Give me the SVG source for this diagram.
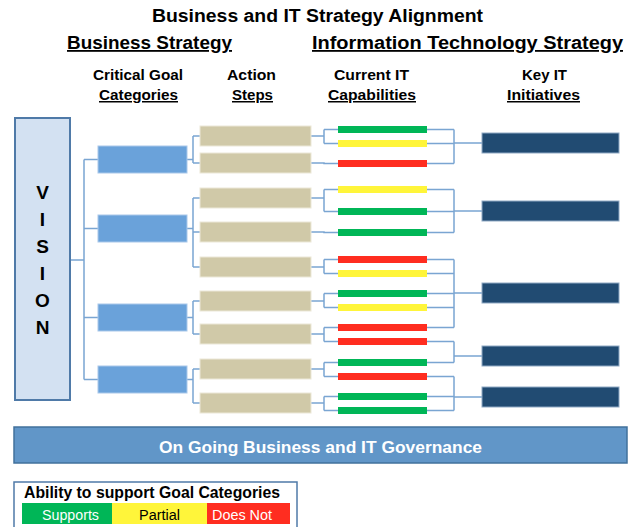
<svg xmlns="http://www.w3.org/2000/svg" width="637" height="527" viewBox="0 0 637 527">
<style>
text{font-family:"Liberation Sans",Arial,sans-serif;font-weight:bold;fill:#000}
.ttl{font-size:18px}
.hdr{font-size:18px;text-decoration:underline}
.sub{font-size:15px}
.subu{font-size:15px;text-decoration:underline}
.vis{font-size:19px}
.goal{fill:#6aa2da;stroke:#a9c8ea;stroke-width:1}
.act{fill:#d0c9a8;stroke:#ece8d8;stroke-width:1}
.key{fill:#214b72;stroke:#8fa9c4;stroke-width:1}
.g{fill:#00b657}
.y{fill:#fff53a}
.r{fill:#ff2d20}
.con{fill:none;stroke:#7aa5d2;stroke-width:1.5}
</style>
<text class="ttl" x="317.5" y="22" text-anchor="middle" textLength="331" lengthAdjust="spacingAndGlyphs">Business and IT Strategy Alignment</text>
<text class="hdr" x="67" y="49" textLength="165" lengthAdjust="spacingAndGlyphs">Business Strategy</text>
<text class="hdr" x="312" y="49" textLength="311" lengthAdjust="spacingAndGlyphs">Information Technology Strategy</text>
<text class="sub" x="138" y="80" text-anchor="middle" textLength="90" lengthAdjust="spacingAndGlyphs">Critical Goal</text>
<text class="subu" x="138.5" y="100" text-anchor="middle" textLength="79" lengthAdjust="spacingAndGlyphs">Categories</text>
<text class="sub" x="251.5" y="80" text-anchor="middle" textLength="49" lengthAdjust="spacingAndGlyphs">Action</text>
<text class="subu" x="252.5" y="100" text-anchor="middle" textLength="41" lengthAdjust="spacingAndGlyphs">Steps</text>
<text class="sub" x="371.5" y="80" text-anchor="middle" textLength="75" lengthAdjust="spacingAndGlyphs">Current IT</text>
<text class="subu" x="372" y="100" text-anchor="middle" textLength="88" lengthAdjust="spacingAndGlyphs">Capabilities</text>
<text class="sub" x="544.5" y="80" text-anchor="middle" textLength="45" lengthAdjust="spacingAndGlyphs">Key IT</text>
<text class="subu" x="543.5" y="100" text-anchor="middle" textLength="73" lengthAdjust="spacingAndGlyphs">Initiatives</text>

<g id="connectors">
<path class="con" d="M70,260H84M84,159.5V379.5M84,159.5H98M84,228.5H98M84,317.5H98M84,379.5H98"/>
<path class="con" d="M187,159.5H193M193,136V163M193,136H200M193,163H200"/>
<path class="con" d="M187,228.5H193M193,198V267M193,198H200M193,232H200M193,267H200"/>
<path class="con" d="M187,317.5H193M193,301V334M193,301H200M193,334H200"/>
<path class="con" d="M187,379.5H193M193,369V403M193,369H200M193,403H200"/>
<path class="con" d="M311,136H324M324,129.5V143.5M324,129.5H338M324,143.5H338"/>
<path class="con" d="M311,163H324V163.5H338"/>
<path class="con" d="M311,198H324M324,189.5V211.5M324,189.5H338M324,211.5H338"/>
<path class="con" d="M311,232H324V232.5H338"/>
<path class="con" d="M311,267H324M324,259.5V273.5M324,259.5H338M324,273.5H338"/>
<path class="con" d="M311,301H324M324,293.5V307.5M324,293.5H338M324,307.5H338"/>
<path class="con" d="M311,334H324M324,327.5V341.5M324,327.5H338M324,341.5H338"/>
<path class="con" d="M311,369H324M324,362.5V376.5M324,362.5H338M324,376.5H338"/>
<path class="con" d="M311,403H324M324,396.5V410.5M324,396.5H338M324,410.5H338"/>
<path class="con" d="M427,129.5H454M427,143.5H454M427,163.5H454M454,129.5V163.5M454,143H482"/>
<path class="con" d="M427,189.5H454M427,211.5H454M427,232.5H454M454,189.5V232.5M454,211H482"/>
<path class="con" d="M427,259.5H454M427,273.5H454M427,293.5H454M427,307.5H454M427,327.5H454M454,259.5V327.5M454,293H482"/>
<path class="con" d="M427,341.5H454M427,362.5H454M454,341.5V362.5M454,356H482"/>
<path class="con" d="M427,376.5H454M427,396.5H454M427,410.5H454M454,376.5V410.5M454,397H482"/>
</g>

<g id="vision">
<rect x="15" y="118" width="55" height="282" fill="#d3e1f2" stroke="#4f7aa8" stroke-width="2"/>
<text class="vis" x="42.5" y="199" text-anchor="middle">V</text>
<text class="vis" x="42.5" y="226" text-anchor="middle">I</text>
<text class="vis" x="42.5" y="253" text-anchor="middle">S</text>
<text class="vis" x="42.5" y="280" text-anchor="middle">I</text>
<text class="vis" x="42.5" y="307" text-anchor="middle">O</text>
<text class="vis" x="42.5" y="334" text-anchor="middle">N</text>
</g>

<g id="goal1"><rect class="goal" x="98" y="146" width="89" height="27"/></g>
<g id="goal2"><rect class="goal" x="98" y="215" width="89" height="27"/></g>
<g id="goal3"><rect class="goal" x="98" y="304" width="89" height="27"/></g>
<g id="goal4"><rect class="goal" x="98" y="366" width="89" height="27"/></g>

<g id="action1"><rect class="act" x="200" y="126" width="111" height="20"/></g>
<g id="action2"><rect class="act" x="200" y="153" width="111" height="20"/></g>
<g id="action3"><rect class="act" x="200" y="188" width="111" height="20"/></g>
<g id="action4"><rect class="act" x="200" y="222" width="111" height="20"/></g>
<g id="action5"><rect class="act" x="200" y="257" width="111" height="20"/></g>
<g id="action6"><rect class="act" x="200" y="291" width="111" height="20"/></g>
<g id="action7"><rect class="act" x="200" y="324" width="111" height="20"/></g>
<g id="action8"><rect class="act" x="200" y="359" width="111" height="20"/></g>
<g id="action9"><rect class="act" x="200" y="393" width="111" height="20"/></g>

<g id="cap1"><rect class="g" x="338" y="126" width="89" height="7"/></g>
<g id="cap2"><rect class="y" x="338" y="140" width="89" height="7"/></g>
<g id="cap3"><rect class="r" x="338" y="160" width="89" height="7"/></g>
<g id="cap4"><rect class="y" x="338" y="186" width="89" height="7"/></g>
<g id="cap5"><rect class="g" x="338" y="208" width="89" height="7"/></g>
<g id="cap6"><rect class="g" x="338" y="229" width="89" height="7"/></g>
<g id="cap7"><rect class="r" x="338" y="256" width="89" height="7"/></g>
<g id="cap8"><rect class="y" x="338" y="270" width="89" height="7"/></g>
<g id="cap9"><rect class="g" x="338" y="290" width="89" height="7"/></g>
<g id="cap10"><rect class="y" x="338" y="304" width="89" height="7"/></g>
<g id="cap11"><rect class="r" x="338" y="324" width="89" height="7"/></g>
<g id="cap12"><rect class="r" x="338" y="338" width="89" height="7"/></g>
<g id="cap13"><rect class="g" x="338" y="359" width="89" height="7"/></g>
<g id="cap14"><rect class="r" x="338" y="373" width="89" height="7"/></g>
<g id="cap15"><rect class="g" x="338" y="393" width="89" height="7"/></g>
<g id="cap16"><rect class="g" x="338" y="407" width="89" height="7"/></g>

<g id="key1"><rect class="key" x="482" y="133" width="137" height="20"/></g>
<g id="key2"><rect class="key" x="482" y="201" width="137" height="20"/></g>
<g id="key3"><rect class="key" x="482" y="283" width="137" height="20"/></g>
<g id="key4"><rect class="key" x="482" y="346" width="137" height="20"/></g>
<g id="key5"><rect class="key" x="482" y="387" width="137" height="20"/></g>

<g id="governance">
<rect x="14" y="427" width="613" height="36" fill="#6196c8" stroke="#41719c" stroke-width="1.5"/>
<text x="320.5" y="453" text-anchor="middle" style="font-size:17px;fill:#fff" textLength="323" lengthAdjust="spacingAndGlyphs">On Going Business and IT Governance</text>
</g>

<g id="legend">
<rect x="14" y="482" width="283" height="46" fill="#fff" stroke="#4f7aa8" stroke-width="1.5"/>
<text x="24" y="498" style="font-size:16px" textLength="256" lengthAdjust="spacingAndGlyphs">Ability to support Goal Categories</text>
<rect class="g" x="22" y="503" width="90" height="21"/>
<rect class="y" x="112" y="503" width="95" height="21"/>
<rect class="r" x="207" y="503" width="83" height="21"/>
<text x="70.5" y="520" text-anchor="middle" style="font-size:14px;font-weight:normal;fill:#fff" textLength="57" lengthAdjust="spacingAndGlyphs">Supports</text>
<text x="159.5" y="520" text-anchor="middle" style="font-size:14px;font-weight:normal" textLength="41" lengthAdjust="spacingAndGlyphs">Partial</text>
<text x="242" y="520" text-anchor="middle" style="font-size:14px;font-weight:normal;fill:#fff" textLength="60" lengthAdjust="spacingAndGlyphs">Does Not</text>
</g>
</svg>
